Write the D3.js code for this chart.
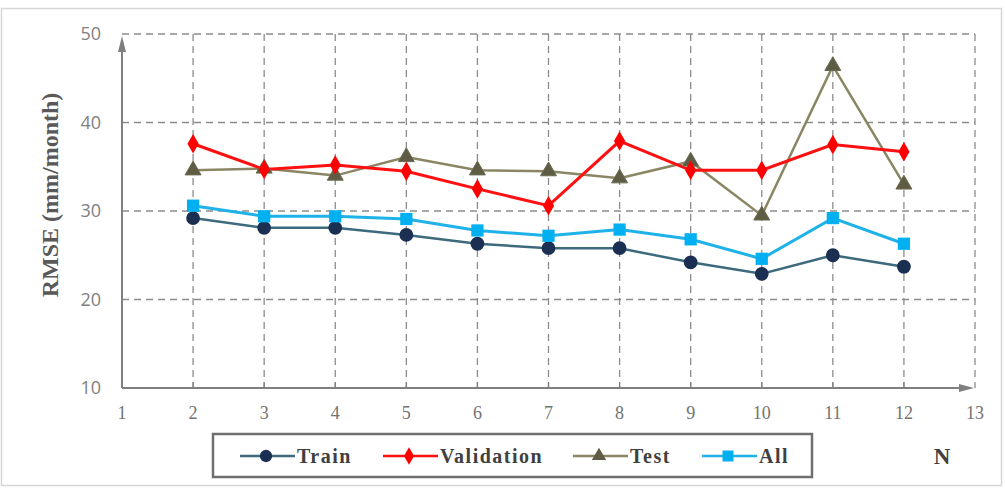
<!DOCTYPE html>
<html><head><meta charset="utf-8">
<script src="https://cdn.jsdelivr.net/npm/d3@7"></script>
<style>body{margin:0;background:#fff}svg{display:block}</style>
</head><body>
<svg id="c" width="1005" height="488"></svg>
<script>
const nValues = [2,3,4,5,6,7,8,9,10,11,12];
const xTicks = [1,2,3,4,5,6,7,8,9,10,11,12,13];
const yTicks = [10,20,30,40,50];
const train = [29.2,28.1,28.1,27.3,26.3,25.8,25.8,24.2,22.9,25.0,23.7];
const validation = [37.6,34.7,35.2,34.5,32.5,30.6,37.9,34.6,34.6,37.5,36.7];
const test = [34.6,34.8,34.0,36.1,34.6,34.5,33.7,35.6,29.5,46.4,33.0];
const all = [30.6,29.4,29.4,29.1,27.8,27.2,27.9,26.8,24.6,29.2,26.3];
const seriesNames = ["Train","Validation","Test","All"];

const svg = d3.select("#c");
svg.append("rect").attr("x",1.5).attr("y",8.5).attr("width",1000).attr("height",477)
  .attr("fill","#fff").attr("stroke","#d6d6d6").attr("stroke-width",1.5);

const x = d3.scaleLinear().domain([1,13]).range([122,975]);
const y = d3.scaleLinear().domain([10,50]).range([388,34]);

// grid
const g = svg.append("g");
g.selectAll(".vg").data(xTicks.slice(1)).join("line")
  .attr("x1",d=>x(d)).attr("x2",d=>x(d)).attr("y1",y(50)).attr("y2",y(10))
  .attr("stroke","#8c8c8c").attr("stroke-width",1.3).attr("stroke-dasharray","7,5");
g.selectAll(".hg").data(yTicks.slice(1)).join("line")
  .attr("x1",x(1)).attr("x2",x(13)).attr("y1",d=>y(d)).attr("y2",d=>y(d))
  .attr("stroke","#8c8c8c").attr("stroke-width",1.3).attr("stroke-dasharray","7,5");

// axes
const axc = "#7f7f7f";
svg.append("line").attr("x1",x(1)).attr("x2",x(1)).attr("y1",y(10)).attr("y2",y(50)+10)
  .attr("stroke",axc).attr("stroke-width",2);
svg.append("path").attr("d",`M${x(1)-4},${y(50)+18} L${x(1)},${y(50)+2} L${x(1)+4},${y(50)+18} Z`).attr("fill",axc);
svg.append("line").attr("x1",x(1)).attr("x2",x(13)-6).attr("y1",y(10)).attr("y2",y(10))
  .attr("stroke",axc).attr("stroke-width",2);
svg.append("path").attr("d",`M${x(13)-16},${y(10)-4} L${x(13)-1},${y(10)} L${x(13)-16},${y(10)+4} Z`).attr("fill",axc);
svg.selectAll(".xt").data(xTicks.slice(1,-1)).join("line")
  .attr("x1",d=>x(d)).attr("x2",d=>x(d)).attr("y1",y(10)).attr("y2",y(10)-6)
  .attr("stroke",axc).attr("stroke-width",1.2);

// tick labels
svg.selectAll(".yl").data(yTicks).join("text")
  .attr("x",x(1)-21).attr("y",d=>y(d)).attr("dy","0.35em").attr("text-anchor","end")
  .attr("font-family","Open Sans, sans-serif").attr("font-size",18).attr("fill","#7f7f7f")
  .text(d=>d);
svg.selectAll(".xl").data(xTicks).join("text")
  .attr("x",d=>x(d)).attr("y",y(10)+31).attr("text-anchor","middle")
  .attr("font-family","Liberation Serif, serif").attr("font-size",18).attr("fill","#737373")
  .text(d=>d);

svg.append("text").attr("transform",`translate(58,195) rotate(-90)`)
  .attr("text-anchor","middle").attr("font-family","Liberation Serif, serif")
  .attr("font-weight","bold").attr("font-size",24).attr("fill","#595959")
  .text("RMSE (mm/month)");
svg.append("text").attr("x",942).attr("y",464).attr("text-anchor","middle")
  .attr("font-family","Liberation Serif, serif").attr("font-weight","bold")
  .attr("font-size",23).attr("fill","#404040").text("N");

const styles = {
  Train:{data:train,line:"#3d6a7d",fill:"#1b2f52",shape:d3.symbolCircle,size:150,w:2.5},
  Validation:{data:validation,line:"#ff1010",fill:"#ff0000",shape:d3.symbolDiamond,size:110,w:3},
  Test:{data:test,line:"#8a8664",fill:"#5e5c44",shape:d3.symbolTriangle,size:110,w:2.5},
  All:{data:all,line:"#1fb2e8",fill:"#00b0f0",shape:d3.symbolSquare,size:150,w:3}
};
const lineGen = d3.line().x((d,i)=>x(nValues[i])).y(d=>y(d));
const order = ["Test","Validation","Train","All"];
order.forEach(n=>{
  const s = styles[n];
  svg.append("path").attr("d",lineGen(s.data)).attr("fill","none")
    .attr("stroke",s.line).attr("stroke-width",s.w);
});
order.forEach(n=>{
  const s = styles[n];
  svg.append("g").selectAll("path").data(s.data).join("path")
    .attr("transform",(d,i)=>`translate(${x(nValues[i])},${y(d)})`)
    .attr("d",d3.symbol().type(s.shape).size(s.size)).attr("fill",s.fill)
    .attr("stroke",n==="Test"?"#6b6a50":"none").attr("stroke-width",1);
});

// legend
const lg = svg.append("g");
lg.append("rect").attr("x",213).attr("y",434).attr("width",599).attr("height",43)
  .attr("fill","#fff").attr("stroke","#6f6f6f").attr("stroke-width",2.5);
const lx = [240,383,573,702];
seriesNames.forEach((n,i)=>{
  const s = styles[n];
  const cx = lx[i]+26;
  lg.append("line").attr("x1",lx[i]).attr("x2",lx[i]+55).attr("y1",456).attr("y2",456)
    .attr("stroke",s.line).attr("stroke-width",2.5);
  lg.append("path").attr("transform",`translate(${cx},456)`)
    .attr("d",d3.symbol().type(s.shape).size(s.size*0.8)).attr("fill",s.fill);
  lg.append("text").attr("x",lx[i]+57).attr("y",463)
    .attr("font-family","Liberation Serif, serif").attr("font-weight","bold")
    .attr("letter-spacing",1.5)
    .attr("font-size",20).attr("fill","#404040").text(n);
});
</script>
</body></html>
